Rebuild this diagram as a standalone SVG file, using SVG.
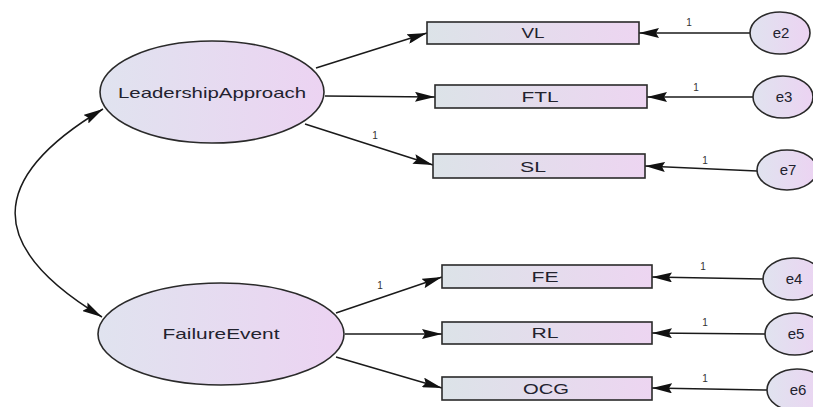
<svg xmlns="http://www.w3.org/2000/svg" width="813" height="407" viewBox="0 0 813 407">
<defs>
<linearGradient id="gEl" x1="0" y1="0" x2="1" y2="0">
<stop offset="0" stop-color="#e0e3ef"/>
<stop offset="1" stop-color="#ecd3f2"/>
</linearGradient>
<linearGradient id="gBox" x1="0" y1="0" x2="1" y2="0">
<stop offset="0" stop-color="#dce3e8"/>
<stop offset="1" stop-color="#edd5f1"/>
</linearGradient>
<marker id="ah" viewBox="0 0 20 10" markerUnits="userSpaceOnUse" markerWidth="20" markerHeight="10" refX="20" refY="5" orient="auto-start-reverse">
<path d="M0,0 L20,5 L0,10 L3,5 z" fill="#111"/>
</marker>
<style>
.lat{fill:url(#gEl);stroke:#2a2a2a;stroke-width:1.6}
.box{fill:url(#gBox);stroke:#2a2a2a;stroke-width:1.6}
.err{fill:url(#gEl);stroke:#2a2a2a;stroke-width:1.6}
.t{font-family:"Liberation Sans",Arial,sans-serif;fill:#22222e;text-anchor:middle}
.big{font-size:15px}
.mid{font-size:15px}
.one{font-family:"Liberation Sans",Arial,sans-serif;font-size:10px;fill:#333;text-anchor:middle}
.c{fill:none;stroke:#1a1a1a;stroke-width:1.5;marker-end:url(#ah)}
</style>
</defs>
<rect width="813" height="407" fill="#ffffff"/>

<g id="connectors">
<path class="c" d="M103,109 C -14,179 -14,247 102,317" style="marker-start:url(#ah)"/>
<line class="c" x1="316" y1="68" x2="427" y2="33"/>
<line class="c" x1="325" y1="96" x2="435" y2="97"/>
<line class="c" x1="305" y1="124" x2="433" y2="165"/>
<line class="c" x1="336" y1="313" x2="442" y2="277"/>
<line class="c" x1="345" y1="334" x2="442" y2="334"/>
<line class="c" x1="336" y1="357" x2="442" y2="388"/>
<line class="c" x1="750" y1="33" x2="639" y2="33"/>
<line class="c" x1="753" y1="97" x2="647" y2="97"/>
<line class="c" x1="757" y1="171" x2="645" y2="166"/>
<line class="c" x1="763" y1="279" x2="652" y2="277"/>
<line class="c" x1="765" y1="334" x2="652" y2="333"/>
<line class="c" x1="767" y1="390" x2="652" y2="388"/>
<text class="one" x="375" y="139">1</text>
<text class="one" x="380" y="289">1</text>
<text class="one" x="689" y="26">1</text>
<text class="one" x="696" y="91">1</text>
<text class="one" x="705" y="164">1</text>
<text class="one" x="703" y="270">1</text>
<text class="one" x="705" y="326">1</text>
<text class="one" x="705" y="382">1</text>
</g>

<g id="LeadershipApproach">
<ellipse class="lat" cx="212" cy="92" rx="112" ry="51"/>
<text class="t big" x="212" y="98" textLength="188" lengthAdjust="spacingAndGlyphs">LeadershipApproach</text>
</g>
<g id="FailureEvent">
<ellipse class="lat" cx="221" cy="334" rx="123" ry="51"/>
<text class="t big" x="221" y="339" textLength="117" lengthAdjust="spacingAndGlyphs">FailureEvent</text>
</g>

<g id="VL">
<rect class="box" x="427" y="22" width="212" height="22"/>
<text class="t big" x="533" y="38" textLength="23" lengthAdjust="spacingAndGlyphs">VL</text>
</g>
<g id="FTL">
<rect class="box" x="435" y="85" width="212" height="23"/>
<text class="t big" x="540" y="102" textLength="37" lengthAdjust="spacingAndGlyphs">FTL</text>
</g>
<g id="SL">
<rect class="box" x="433" y="154" width="212" height="24"/>
<text class="t big" x="533" y="172" textLength="26" lengthAdjust="spacingAndGlyphs">SL</text>
</g>
<g id="FE">
<rect class="box" x="442" y="265" width="210" height="23"/>
<text class="t big" x="545" y="282" textLength="27" lengthAdjust="spacingAndGlyphs">FE</text>
</g>
<g id="RL">
<rect class="box" x="442" y="322" width="210" height="22"/>
<text class="t big" x="545" y="338" textLength="27" lengthAdjust="spacingAndGlyphs">RL</text>
</g>
<g id="OCG">
<rect class="box" x="442" y="377" width="210" height="23"/>
<text class="t big" x="546" y="394" textLength="46" lengthAdjust="spacingAndGlyphs">OCG</text>
</g>

<g id="e2">
<ellipse class="err" cx="780" cy="33" rx="30" ry="21"/>
<text class="t mid" x="781" y="38">e2</text>
</g>
<g id="e3">
<ellipse class="err" cx="783" cy="97" rx="30" ry="21"/>
<text class="t mid" x="784" y="102">e3</text>
</g>
<g id="e7">
<ellipse class="err" cx="787" cy="170" rx="30" ry="20"/>
<text class="t mid" x="788" y="175">e7</text>
</g>
<g id="e4">
<ellipse class="err" cx="793" cy="279" rx="30" ry="21"/>
<text class="t mid" x="794" y="284">e4</text>
</g>
<g id="e5">
<ellipse class="err" cx="795" cy="334" rx="30" ry="21"/>
<text class="t mid" x="796" y="339">e5</text>
</g>
<g id="e6">
<ellipse class="err" cx="797" cy="390" rx="30" ry="21"/>
<text class="t mid" x="798" y="395">e6</text>
</g>
</svg>
